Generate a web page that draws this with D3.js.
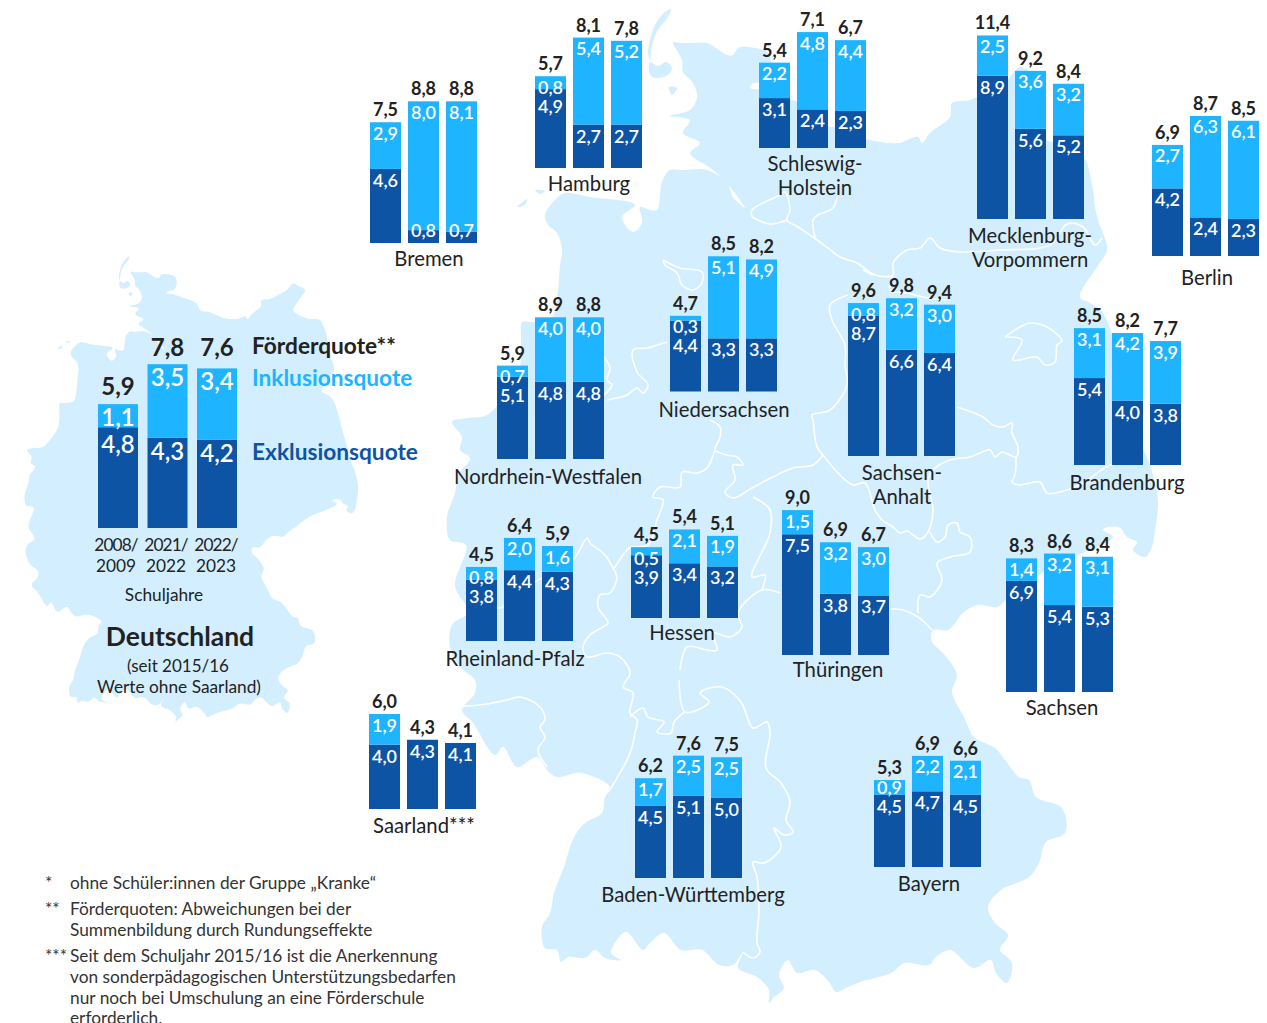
<!DOCTYPE html>
<html lang="de"><head><meta charset="utf-8">
<script src="https://cdn.jsdelivr.net/npm/d3@7"></script>
<style>html,body{margin:0;padding:0;background:#fff}svg{display:block}text{font-family:Lato,sans-serif}</style>
</head><body><svg id="c" width="1267" height="1023"></svg>
<script>
// ---------- data ----------
const regions = ["Bremen","Hamburg","Schleswig-Holstein","Mecklenburg-Vorpommern","Berlin","Nordrhein-Westfalen","Niedersachsen","Sachsen-Anhalt","Brandenburg","Rheinland-Pfalz","Hessen","Thüringen","Sachsen","Saarland","Baden-Württemberg","Bayern"];
const totals = [[7.5,8.8,8.8],[5.7,8.1,7.8],[5.4,7.1,6.7],[11.4,9.2,8.4],[6.9,8.7,8.5],[5.9,8.9,8.8],[4.7,8.5,8.2],[9.6,9.8,9.4],[8.5,8.2,7.7],[4.5,6.4,5.9],[4.5,5.4,5.1],[9.0,6.9,6.7],[8.3,8.6,8.4],[6.0,4.3,4.1],[6.2,7.6,7.5],[5.3,6.9,6.6]];
const inklusion = [[2.9,8.0,8.1],[0.8,5.4,5.2],[2.2,4.8,4.4],[2.5,3.6,3.2],[2.7,6.3,6.1],[0.7,4.0,4.0],[0.3,5.1,4.9],[0.8,3.2,3.0],[3.1,4.2,3.9],[0.8,2.0,1.6],[0.5,2.1,1.9],[1.5,3.2,3.0],[1.4,3.2,3.1],[1.9,0,0],[1.7,2.5,2.5],[0.9,2.2,2.1]];
const exklusion = [[4.6,0.8,0.7],[4.9,2.7,2.7],[3.1,2.4,2.3],[8.9,5.6,5.2],[4.2,2.4,2.3],[5.1,4.8,4.8],[4.4,3.3,3.3],[8.7,6.6,6.4],[5.4,4.0,3.8],[3.8,4.4,4.3],[3.9,3.4,3.2],[7.5,3.8,3.7],[6.9,5.4,5.3],[4.0,4.3,4.1],[4.5,5.1,5.0],[4.5,4.7,4.5]];
const deTotals = [5.9,7.8,7.6];
const deInklusion = [1.1,3.5,3.4];
const deExklusion = [4.8,4.3,4.2];
const yearLines = [["2008/","2009"],["2021/","2022"],["2022/","2023"]];
const footnotes = [["*","ohne Schüler:innen der Gruppe „Kranke“"],["**","Förderquoten: Abweichungen bei der"],["","Summenbildung durch Rundungseffekte"],["***","Seit dem Schuljahr 2015/16 ist die Anerkennung"],["","von sonderpädagogischen Unterstützungsbedarfen"],["","nur noch bei Umschulung an eine Förderschule"],["","erforderlich."]];
const footnoteY = [883,909,930,956,977,998,1018];

// ---------- layout of the panels on the map ----------
const panelX = [370,535,759,977,1152,497,670,848,1074,466,631,782,1006,369,635,874];
const panelBase = [243,168,148,219,256,459,391.5,456,465,641,618,655,692,809,878,867];
const nameLines = [["Bremen"],["Hamburg"],["Schleswig-","Holstein"],["Mecklenburg-","Vorpommern"],["Berlin"],["Nordrhein-Westfalen"],["Niedersachsen"],["Sachsen-","Anhalt"],["Brandenburg"],["Rheinland-Pfalz"],["Hessen"],["Thüringen"],["Sachsen"],["Saarland***"],["Baden-Württemberg"],["Bayern"]];
const nameX = [429,589,815,1030,1207,548,724,902,1127,515,682,838,1062,424,693,929];
const nameY = [259,184,164,236,278,477,410,473,483,659,633,670,708,826,895,884];
const labelLift = {15:[4,0,0]};   // Bayern's first pair of labels sits higher
const deTotalLift = [1,0,4];

// ---------- backdrop map, traced in picture coordinates ----------
const outline = [[673,42],[680,43],[693,43],[707,43],[727,55],[733,55],[738,48],[748,47],[768,53],[771,70],[764,81],[752,84],[750,88],[764,90],[778,95],[814,110],[821,124],[840,128],[870,140],[890,143],[900,143],[918,137],[922,143],[930,133],[950,117],[952,103],[970,100],[990,90],[1006,81],[1013,73],[1020,67],[1030,72],[1045,81],[1034,99],[1020,124],[1048,141],[1077,145],[1084,159],[1083,157],[1087,163],[1093,190],[1095,207],[1098,220],[1107,250],[1097,267],[1080,297],[1090,303],[1103,313],[1130,400],[1140,440],[1150,465],[1158,500],[1155,530],[1152,547],[1145,557],[1133,550],[1137,542],[1127,537],[1120,528],[1107,527],[1103,530],[1113,537],[1083,553],[1057,563],[1030,582],[1006,600],[997,607],[977,605],[963,613],[948,630],[933,630],[932,642],[943,653],[957,675],[952,692],[964,717],[974,737],[995,748],[1005,760],[1019,777],[1029,780],[1036,797],[1062,808],[1065,833],[1046,842],[1039,863],[1029,877],[1001,890],[988,907],[995,923],[1008,935],[1000,950],[1012,963],[1007,983],[996,973],[991,960],[974,968],[950,950],[936,957],[929,965],[905,963],[891,973],[860,982],[846,988],[836,992],[829,982],[815,970],[797,973],[788,960],[779,975],[784,988],[774,997],[769,1003],[769,990],[757,977],[738,968],[743,952],[733,965],[719,965],[702,950],[681,950],[664,933],[650,943],[643,950],[626,932],[611,953],[621,960],[605,958],[595,950],[585,958],[568,957],[561,962],[557,950],[545,948],[542,927],[550,913],[554,893],[564,867],[574,837],[585,823],[602,813],[605,797],[611,788],[581,773],[557,777],[547,770],[537,757],[517,767],[503,747],[495,755],[473,723],[462,710],[475,693],[475,680],[460,667],[450,647],[452,625],[468,612],[455,586],[466,545],[450,540],[447,517],[455,493],[458,475],[470,458],[460,450],[462,437],[452,422],[467,418],[487,415],[505,395],[519,372],[521,335],[522,322],[535,322],[552,317],[558,290],[560,265],[562,250],[557,233],[548,225],[545,215],[555,200],[565,193],[590,197],[635,205],[622,217],[633,232],[642,223],[640,207],[650,210],[657,210],[662,182],[670,170],[683,170],[707,170],[727,183],[733,197],[745,208],[730,187],[713,170],[690,153],[700,143],[683,133],[690,120],[670,116],[690,110],[697,97],[693,83],[683,72],[682,60]];
const islands = [
 [[671,9],[665,12],[655,25],[650,40],[648,52],[650,60],[652,45],[658,30],[668,17]],
 [[650,62],[658,66],[666,62],[672,68],[668,75],[655,78],[650,75]],
 [[669,87],[677,88],[672,95]],
 [[517,207],[527,199],[525,205]],
 [[535,190],[545,191],[540,194]]
];
const borders = [
 [[752,217],[752,210],[780,195],[785,192],[790,210],[787,220],[798,227],[813,237],[828,248],[840,257],[857,263],[875,275],[893,275],[893,263],[907,250],[920,248],[930,238],[940,248],[960,252],[1000,250],[1050,245],[1067,224],[1083,227],[1095,245],[1102,238]],
 [[752,217],[770,224],[787,220]],
 [[815,237],[813,220],[818,215],[833,208],[837,197]],
 [[893,275],[890,290],[907,293],[923,297],[947,300]],
 [[863,270],[873,275]],
 [[848,295],[830,305],[832,320],[845,345],[845,365],[847,385],[830,410],[812,415],[813,420],[817,447],[823,455],[837,472],[853,485],[865,483],[875,510],[882,520],[893,527],[900,533],[907,531],[920,539],[928,532],[933,510],[928,480],[933,470],[950,460],[970,457],[990,450],[995,457],[1002,452],[1016,457],[1018,447],[1012,433],[1012,423],[1003,427],[993,425],[983,417],[957,407]],
 [[1016,457],[1015,475],[1012,482],[1020,485],[1040,482],[1047,493],[1067,490],[1083,483],[1110,465],[1125,462]],
 [[663,260],[680,268],[702,272],[702,283],[693,290],[682,285],[677,273],[665,265],[663,260]],
 [[1005,337],[1020,327],[1030,323],[1047,327],[1062,341],[1057,345],[1055,362],[1045,365],[1037,357],[1013,360],[1022,340],[1005,337]],
 [[607,400],[627,395],[637,388],[643,393],[648,385],[637,372],[633,350],[647,348],[667,342]],
 [[604,357],[610,368],[607,380],[612,385],[604,395]],
 [[710,420],[720,427],[720,437],[715,450],[727,455],[737,457],[743,465],[733,465],[735,480],[725,492],[733,498],[752,488],[773,477],[793,468],[813,465],[823,455]],
 [[715,450],[707,468],[697,473],[682,472],[680,487],[660,487],[653,497],[663,500],[657,520],[648,545],[631,547],[627,550],[613,570]],
 [[497,608],[503,607],[535,582],[542,578],[573,560],[587,538],[590,543],[605,555],[613,568],[617,577],[610,593],[600,595],[598,607],[608,623],[603,627],[590,635],[583,648],[587,657],[607,653],[620,657],[630,673],[623,687],[633,693],[630,713],[637,720],[635,733],[632,747],[627,760],[611,788]],
 [[462,706],[480,705],[507,700],[520,697],[540,707],[545,720],[540,727],[545,737],[538,750],[547,767]],
 [[680,670],[687,647],[707,650],[717,650],[713,633],[730,637],[742,627],[738,613],[762,590],[780,593]],
 [[753,497],[770,510],[770,533],[752,577],[765,575],[762,590]],
 [[679,680],[685,712],[709,702],[700,693],[722,687],[741,702],[753,728],[767,722],[770,733],[766,768],[781,783],[790,802],[786,820],[793,832],[784,835],[774,828],[781,847],[764,863],[753,862],[757,877],[759,910],[757,943],[760,952],[753,958],[743,952]],
 [[630,717],[643,708],[648,717],[664,722],[657,732],[671,733],[674,722],[685,712]],
 [[890,609],[903,610],[918,617],[932,630]],
 [[930,532],[937,542],[945,537],[948,525],[957,523],[960,532],[970,537],[970,552],[950,557],[937,563],[942,580],[930,597],[920,595],[918,613]]
];

// ---------- colours ----------
const COL = {map:"#d3efff",dark:"#0d54a5",light:"#1fb4ff",text:"#222222",white:"#ffffff",grey:"#333333"};

// ---------- drawing ----------
const svg = d3.select("#c");
const closed = d3.line().curve(d3.curveCatmullRomClosed.alpha(0.5));
const open = d3.line().curve(d3.curveCatmullRom.alpha(0.5));
const fmt = d3.formatLocale({decimal:",",thousands:".",grouping:[3],currency:["","€"]}).format(".1f");

function drawSilhouette(g){
  g.append("path").attr("d",closed(outline)).attr("fill",COL.map);
  g.selectAll("path.isl").data(islands).join("path").attr("class","isl").attr("d",closed).attr("fill",COL.map);
}
drawSilhouette(svg.append("g"));
drawSilhouette(svg.append("g").attr("transform","translate(-185,252) scale(0.469)"));
svg.append("g").selectAll("path").data(borders).join("path").attr("d",open)
  .attr("fill","none").attr("stroke",COL.white).attr("stroke-width",1.6);

function text(g,x,y,s,o={}){
  return g.append("text").attr("x",x).attr("y",y-1).attr("dominant-baseline","central")
    .attr("text-anchor",o.anchor||"middle").attr("font-size",o.size||18).attr("font-weight",o.weight||400)
    .attr("letter-spacing",o.spacing||null)
    .attr("fill",o.fill||COL.text).text(s);
}

function panel(x0,base,tot,ink,exk,o){
  const g = svg.append("g");
  const y = d3.scaleLinear().domain([0,10]).range([base,base-o.unit*10]);
  const xs = d3.scaleBand().domain(d3.range(3)).range([x0,x0+2*o.step+o.w]).paddingInner((o.step-o.w)/o.step).paddingOuter(0);
  d3.range(3).forEach(i=>{
    const cx = xs(i)+o.w/2, E = exk[i], I = ink[i], lift = (o.lift&&o.lift[i])||0;
    g.append("rect").attr("x",xs(i)).attr("width",o.w).attr("y",y(E)).attr("height",y(0)-y(E)).attr("fill",COL.dark);
    let top = y(E), lc = null;
    if(I>0){
      top = y(E+I);
      g.append("rect").attr("x",xs(i)).attr("width",o.w).attr("y",top).attr("height",y(E)-top).attr("fill",COL.light);
      lc = top+o.pad-0.5-lift;
      text(g,cx,lc,fmt(I),{size:o.vsize,fill:COL.white,weight:600});
    }
    let dc = y(E)+o.pad;
    if(lc!==null) dc = Math.max(dc,lc+o.gap);
    dc = Math.min(dc,y(0)-o.pad);
    text(g,cx,dc,fmt(E),{size:o.vsize,fill:COL.white,weight:600});
    text(g,cx,top-o.tgap-((o.tlift&&o.tlift[i])||0),fmt(tot[i]),{size:o.tsize,weight:700});
  });
}
const small = {unit:16.1,w:31,step:38,pad:12,gap:19,tgap:12,vsize:18,tsize:18};
regions.forEach((r,i)=>{
  panel(panelX[i],panelBase[i],totals[i],inklusion[i],exklusion[i],Object.assign({},small,{lift:labelLift[i]}));
  nameLines[i].forEach((l,k)=>text(svg,nameX[i],nameY[i]+k*24,l,{size:20.3}));
});

panel(98,528,deTotals,deInklusion,deExklusion,{unit:21,w:40,step:49.5,pad:14,gap:27,tgap:17,vsize:24,tsize:24,tlift:deTotalLift});
yearLines.forEach((ls,i)=>ls.forEach((l,k)=>text(svg,116+i*50,545+k*21,l,{size:17.3,spacing:k===0?"-0.9":null})));
text(svg,164,595,"Schuljahre",{size:17.3});
text(svg,180,637,"Deutschland",{size:26.5,weight:700});
text(svg,178,666,"(seit 2015/16",{size:17});
text(svg,179,687,"Werte ohne Saarland)",{size:17.3});
text(svg,252,346,"Förderquote**",{size:22.7,weight:700,anchor:"start"});
text(svg,252,378,"Inklusionsquote",{size:22.7,weight:700,anchor:"start",fill:COL.light});
text(svg,252,452,"Exklusionsquote",{size:22.7,weight:700,anchor:"start",fill:COL.dark});

footnotes.forEach((f,i)=>{
  if(f[0]) text(svg,45,footnoteY[i],f[0],{size:17.3,anchor:"start",fill:COL.grey});
  text(svg,70,footnoteY[i],f[1],{size:17.3,anchor:"start",fill:COL.grey});
});
</script></body></html>
